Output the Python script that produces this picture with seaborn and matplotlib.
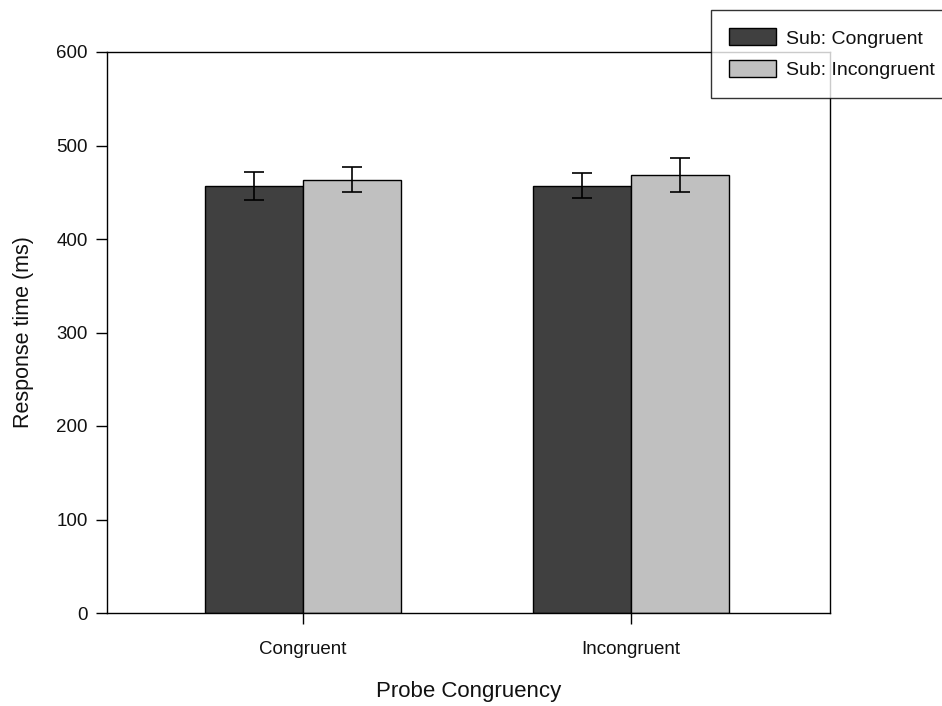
import matplotlib
matplotlib.use("Agg")
import matplotlib.pyplot as plt
import seaborn as sns
import pandas as pd
import numpy as np

probe = ["Congruent", "Incongruent"]
sub_levels = ["Sub: Congruent", "Sub: Incongruent"]
rt_sub_congruent = [456.7, 457.0]
rt_sub_incongruent = [463.4, 468.4]
err_sub_congruent = [14.5, 13.5]
err_sub_incongruent = [13.3, 18.0]
colors = ["#404040", "#c0c0c0"]

df = pd.DataFrame({
    "Probe": probe * 2,
    "Sub": [sub_levels[0]] * 2 + [sub_levels[1]] * 2,
    "RT": rt_sub_congruent + rt_sub_incongruent,
    "err": err_sub_congruent + err_sub_incongruent,
})

sns.set_style("white")
plt.rcParams["font.family"] = ["Liberation Sans", "DejaVu Sans"]
plt.rcParams["text.color"] = "#111111"
plt.rcParams["axes.labelcolor"] = "#111111"
plt.rcParams["xtick.color"] = "#111111"
plt.rcParams["ytick.color"] = "#111111"

fig = plt.figure(figsize=(9.42, 7.06), dpi=100)
ax = fig.add_axes([107/942, 1 - 613/706, (830-107)/942, (613-52)/706])

sns.barplot(data=df, x="Probe", y="RT", hue="Sub", order=probe, hue_order=sub_levels,
            palette=colors, width=0.6, gap=0, errorbar=None, ax=ax,
            edgecolor="black", linewidth=1.0, saturation=1)

# error bars at bar centres
for container, errs in zip(ax.containers, [err_sub_congruent, err_sub_incongruent]):
    for patch, e in zip(container.patches, errs):
        xc = patch.get_x() + patch.get_width() / 2
        yv = patch.get_height()
        ax.errorbar(xc, yv, yerr=e, fmt="none", ecolor="black", elinewidth=1.2,
                    capsize=7, capthick=1.2)

ax.set_ylim(0, 600)
ax.set_xlim(-0.598, 1.607)
ax.set_yticks(np.arange(0, 601, 100))
ax.set_ylabel("Response time (ms)", fontsize=15.5, labelpad=16)
ax.set_xlabel("Probe Congruency", fontsize=16, labelpad=17)
ax.tick_params(axis="both", which="major", direction="out", length=8, width=1,
               color="black", labelsize=13.5, left=True, bottom=True)
ax.tick_params(axis="x", pad=12)
ax.tick_params(axis="y", pad=6)
for s in ax.spines.values():
    s.set_visible(True)
    s.set_color("black")
    s.set_linewidth(1.0)

leg = ax.legend(loc="upper left", bbox_to_anchor=(711/942, 1 - 10/706),
                bbox_transform=fig.transFigure, frameon=True, fancybox=False,
                edgecolor="black", fontsize=14, handlelength=2.4, handleheight=0.95,
                handletextpad=0.5, borderpad=0.95, labelspacing=0.65, borderaxespad=0)
leg.get_frame().set_linewidth(1.0)
leg.set_title(None)

fig.savefig("out.png", dpi=100)
